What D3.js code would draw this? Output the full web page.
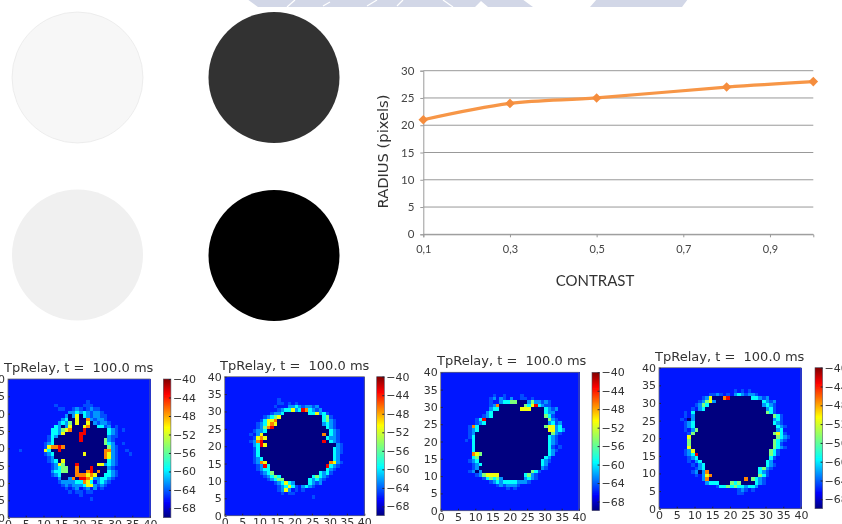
<!DOCTYPE html>
<html>
<head>
<meta charset="utf-8">
<script src="https://d3js.org/d3.v7.min.js"></script>
<style>
  html, body { margin: 0; padding: 0; background: #fff; overflow: hidden; }
  svg { display: block; }
  text { white-space: pre; }
</style>
</head>
<body>
<div id="my_dataviz"></div>
<script>
// line chart values
var contrast = [0.1, 0.3, 0.5, 0.8, 1];
var radius = [21, 24, 25, 27, 28];
var contrastTicks = [0.1, 0.3, 0.5, 0.7, 0.9];
var radiusTicks = [0, 5, 10, 15, 20, 25, 30];

// stimulus discs, grey level
var discGrays = ["#f7f7f7", "#333333", "#f0f0f0", "#000000"];

// heatmap cell codes -> membrane potential (mV)
var cellLevels = { ".": -66, "-": -64.5, "c": -62.5, "t": -59.5, "g": -55, "y": -51, "o": -47, "r": -43, "d": -70 };
var gridTicks = [0, 5, 10, 15, 20, 25, 30, 35, 40];
var barTicks = [-40, -44, -48, -52, -56, -60, -64, -68];
var firstRow = 34; // first string of each panel is this row, going downwards

var panel1Rows = [
"........................................",
"......................-.................",
".............-.......---................",
"..............--..-c-.-c--..............",
".................cctctc-cc-.............",
"................cdcydtc-cc--............",
"...............ctddyddoc-cc-............",
"..............ctcgdyddydc-cc-...........",
".............tcdcydddyoddtt-c.-.........",
"............ttcgyodddrddddddtc-.-.......",
"............ttcyddddrrddddddtc-.........",
"...........-tcddddddrdddddddc--.........",
"...........-tdddddddrddddddgc-..........",
"..........-ctddddddddddddddgtc..-.......",
"..........-yooroddddddddddddgc-.........",
"...-......ytddrddddddddddddooc-..-......",
"..........-ctddddddddydddddoyc-...-.....",
"...........-cddddddddddddddoyc-.........",
"...........-ctdyddddddddddddtc-.........",
"............-cygdddrdddddyyctc-.........",
"............-ctggddodddrddddc-..........",
"............cttggddoddordoddtc-..........",
"............-ctddddoooyoyddttc-.........",
"..............cddcodrroyccttc-..........",
"..............-ccccttoyt.ctc-...........",
"...............-c-ccctyyc-c-............",
"................-.-c.-c.c.-.............",
".................-.--.--................",
"....................-...................",
".......................-................"
];

var panel2Rows = [
"........................................",
"...............-........................",
"...............--.-.-...................",
"..............-...cctc-cc-c.............",
"...............-cttyctrotc-c............",
".............-cctdddddddttyct-..........",
"...........-ctgyddddddddddddtg-.........",
"..........-tyyodddddddddddddtgc-........",
".........-ctyoydddddddddddddctc-........",
".........-cgordddddddddddddddtc-........",
"........-cctddddddddddddddddddtc-.......",
".......-.cydddddddddddddddddodtc-.......",
"........-yoydddddddddddddddddtcc-.......",
".......-cordddddddddddddddddrdtc-.......",
"........ctryddddddddddddddddddddc-......",
"........-tdddddddddddddddddddddtc-......",
"........-tdddddddddddddddddddddtc-......",
"........-tdddddddddddddddddddddtc.......",
"........-ctddddddddddddddddddddtc.......",
"........-coyddddddddddddddddddoyc-......",
".........-crtddddddddddddddddrtc-.......",
".........-cttddddddddddddddddtc-........",
"..........-ctgdddddddddddddtct-.........",
"...........-ctgtdddddddddtgtc-..........",
"............-ctggdddddddtctc-...........",
"..............-ctytcddddtc-c............",
"...............-ctyt-.ctc-..............",
"...............-cyc.-.-.................",
"................-.--....................",
".........................-.............."
];

var panel3Rows = [
"........................................",
"...............-..-....-................",
"..............-c.c-.c..--.-.............",
"..............-..cttggdddcgcc-c-........",
"..............-codddddddgtyrtc--........",
"..............cttddddddyyyddddtc-c......",
".............ctdddddddddddddddtcc.......",
"............-ctdddddddddddddddgt-.......",
"..........-trddddddddddddddddddgc-......",
"..........-ctddddddddddddddddddct-c.....",
"........-otdddddddddddddddddddgyyct.....",
"........-ctddddddddddddddddddddyyctc....",
"........-cddddddddddddddddddddddgc-.....",
"........-tdddddddddddddddddddddtc-......",
".......-.tdddddddddddddddddddddtc-......",
".........tdddddddddddddddddddddtc-......",
".........tdddddddddddddddddddddt-.-.....",
".........tdddddddddddddddddddddtc-......",
".........oygdddddddddddddddddddtc.......",
".........tgdddddddddddddddddddtc........",
"........-ctddddddddddddddddddtc-........",
".........-ctdddddddddddddddddtc.........",
".........-cddddddddddddddddddc-.........",
"........-cdcddddddddddddddgt-...........",
"..........-cgyyyydddddddtgc-............",
"............-tgtgcddddddctc-............",
"..............-ctcttttccc-..............",
"................-c-ccc-.................",
"...................-.-.................."
];

var panel4Rows = [
"........................................",
".....................-.-.-..............",
"..............--c-.-.ctc-cc-............",
"............-cydddorddddddttc-c.........",
"...........-cgycdddddddddddddtc-c.......",
"..........-cgtdddddddddddddddctc-.......",
".........-.ctdddddddddddddddddct-.......",
".......-.tddddddddddddddddddddgt-.......",
".......-.cddddddddddddddddddddddgt-.....",
"......-.dcddddddddddddddddddddddct-.....",
".......-ctddddddddddddddddddddddtc-.....",
".......-ctdddddddddddddddddddddddtc-....",
".......-.cgddddddddddddddddddddddct.....",
"........-gddddddddddddddddddddddgyt-....",
"........yddddddddddddddddddddddddgtc-...",
"........gdddddddddddddddddddddddgtc-....",
"........gdddddddddddddddddddddddgt-.....",
"........ydddddddddddddddddddddddgtc-....",
".......-cydddddddddddddddddddddgt-......",
".......-ctrddddddddddddddddddddgt-......",
"........-ctddddddddddddddddddddt-.......",
"........-.ctddddddddddddddddddtc........",
".........-.ctdddddddddddddddddtc-.......",
"..........-ctdddddddddddddddtgc-........",
".........-cdcoddddddddddddddtc-.........",
"..........-.cyodddddddddddddgt-.........",
"............coddddddddddodgtc-..........",
".............ctttdddgtgddddtc-..........",
"................-ttgtgttcttc............",
"......................-c-.-.............",
"......................--................"
];

var panelRows = [panel1Rows, panel2Rows, panel3Rows, panel4Rows];
var panelTitle = "TpRelay, t =  100.0 ms";

var width = 842, height = 524;

var svg = d3.select("#my_dataviz").append("svg")
  .attr("width", width)
  .attr("height", height);

var defs = svg.append("defs");
defs.append("filter").attr("id", "soft")
  .attr("x", "-5%").attr("y", "-5%").attr("width", "110%").attr("height", "110%")
  .append("feGaussianBlur").attr("stdDeviation", 0.65);
defs.append("filter").attr("id", "softText")
  .attr("x", "-5%").attr("y", "-5%").attr("width", "110%").attr("height", "110%")
  .append("feGaussianBlur").attr("stdDeviation", 0.35);

// jet colormap
var jetPos = [0, 0.11, 0.35, 0.5, 0.65, 0.89, 1];
var jetCol = ["#00007f", "#0000ff", "#00ffff", "#7dff7a", "#ffff00", "#ff0000", "#7f0000"];
var color = d3.scaleLinear()
  .domain(jetPos.map(function(p) { return -70 + p * 30; }))
  .range(jetCol);

var gradient = defs.append("linearGradient").attr("id", "jet")
  .attr("x1", 0).attr("x2", 0).attr("y1", 1).attr("y2", 0);
jetPos.forEach(function(p, i) {
  gradient.append("stop").attr("offset", p).attr("stop-color", jetCol[i]);
});

// crest left over at the top of the page
var crest = svg.append("g").attr("filter", "url(#softText)");
crest.append("path")
  .attr("d", "M247,-1L258,7L475,7L481,1L488,7L533,7L522,-1L597,-1L590,7L682,7L688,-1Z")
  .attr("fill", "#d2d7e7");
[[295, 0, 287, 7], [323, 6, 330, 2], [367, 6, 377, 0], [397, 6, 403, 0], [443, 0, 453, 7]].forEach(function(s) {
  crest.append("line").attr("x1", s[0]).attr("y1", s[1]).attr("x2", s[2]).attr("y2", s[3])
    .attr("stroke", "#fff").attr("stroke-width", 1.2);
});

// discs
var discPlace = [[77.5, 77.5], [274, 77.5], [77.5, 255], [274, 255.5]];
svg.append("g").attr("filter", "url(#softText)").selectAll("circle")
  .data(discGrays).enter().append("circle")
  .attr("cx", function(d, i) { return discPlace[i][0]; })
  .attr("cy", function(d, i) { return discPlace[i][1]; })
  .attr("r", 65.5)
  .attr("fill", function(d) { return d; })
  .attr("stroke", function(d, i) { return i == 0 ? "#e6e6e6" : "none"; })
  .attr("stroke-width", 0.7);

// line chart
var x = d3.scaleLinear().domain([0.1, 1]).range([423.3, 813.3]);
var y = d3.scaleLinear().domain([0, 30]).range([234.3, 70.7]);
var chart = svg.append("g").attr("filter", "url(#softText)");
var chartFont = "Lato, 'Open Sans', sans-serif";

var gridAxis = d3.axisLeft(y).tickValues(radiusTicks).tickSize(3).tickPadding(6);
var gy = chart.append("g").attr("transform", "translate(423.3,0)").call(gridAxis);
gy.select(".domain").attr("stroke", "#9a9a9a");
gy.selectAll("line").attr("stroke", "#9a9a9a");
gy.selectAll("text").attr("font-family", chartFont).attr("font-size", 11.5).attr("fill", "#444");
chart.append("g").selectAll("line").data(radiusTicks).enter().append("line")
  .attr("x1", x(0.1)).attr("x2", x(1))
  .attr("y1", function(d) { return y(d); }).attr("y2", function(d) { return y(d); })
  .attr("stroke", "#999").attr("stroke-width", 1);

var gx = chart.append("g").attr("transform", "translate(0,234.3)")
  .call(d3.axisBottom(x).tickValues(contrastTicks).tickSize(3).tickPadding(8)
    .tickFormat(function(d) { return d3.format(".1f")(d).replace(".", ","); }));
gx.select(".domain").attr("stroke", "#9a9a9a");
gx.selectAll("line").attr("stroke", "#9a9a9a");
gx.selectAll("text").attr("font-family", chartFont).attr("font-size", 11).attr("fill", "#444");

var line = d3.line()
  .x(function(d, i) { return x(contrast[i]); })
  .y(function(d) { return y(d); })
  .curve(d3.curveCatmullRom.alpha(0.5));
chart.append("path").attr("d", line(radius))
  .attr("fill", "none").attr("stroke", "#f79646").attr("stroke-width", 3.2);
chart.append("g").selectAll("path").data(radius).enter().append("path")
  .attr("d", d3.symbol().type(d3.symbolSquare).size(46))
  .attr("transform", function(d, i) { return "translate(" + x(contrast[i]) + "," + y(d) + ") rotate(45)"; })
  .attr("fill", "#f58d3e");

chart.append("text")
  .attr("transform", "translate(388,151.5) rotate(-90)")
  .attr("text-anchor", "middle")
  .attr("font-family", "'DejaVu Sans', sans-serif").attr("font-size", 14.7).attr("fill", "#333")
  .text("RADIUS (pixels)");
chart.append("text")
  .attr("x", 595).attr("y", 286)
  .attr("text-anchor", "middle")
  .attr("font-family", chartFont).attr("font-size", 15).attr("fill", "#333")
  .text("CONTRAST");

// heatmaps
var layout = [
  { x0: 8, x1: 150, y0: 379, y1: 517.7, bx: 163.3, tx: 4 },
  { x0: 224.7, x1: 364.3, y0: 376.7, y1: 515.7, bx: 376.7, tx: 220 },
  { x0: 440.7, x1: 579, y0: 372.3, y1: 510.7, bx: 592, tx: 437 },
  { x0: 659, x1: 801, y0: 367.7, y1: 508.7, bx: 815, tx: 655 }
];
var plotFont = "'DejaVu Sans', sans-serif";
var cols = d3.range(40), rows = d3.range(40);

layout.forEach(function(p, k) {
  var g = svg.append("g").attr("class", "panel");
  var xCell = d3.scaleBand().domain(cols).range([p.x0, p.x1]);
  var yCell = d3.scaleBand().domain(rows).range([p.y1, p.y0]);
  var xTick = d3.scaleLinear().domain([0, 40]).range([p.x0, p.x1]);
  var yTick = d3.scaleLinear().domain([0, 40]).range([p.y1, p.y0]);

  var cells = [];
  rows.forEach(function(r) {
    var s = panelRows[k][firstRow - r] || "";
    cols.forEach(function(c) {
      cells.push({ c: c, r: r, v: cellLevels[s.charAt(c)] || -66 });
    });
  });
  g.append("g").attr("filter", "url(#soft)").attr("shape-rendering", "crispEdges").selectAll("rect")
    .data(cells).enter().append("rect")
    .attr("x", function(d) { return xCell(d.c); })
    .attr("y", function(d) { return yCell(d.r); })
    .attr("width", xCell.bandwidth() + 0.5)
    .attr("height", yCell.bandwidth() + 0.5)
    .attr("fill", function(d) { return color(d.v); });

  var labels = g.append("g").attr("filter", "url(#softText)");
  var ax = labels.append("g").attr("transform", "translate(0," + p.y1 + ")")
    .call(d3.axisBottom(xTick).tickValues(gridTicks).tickSize(-2).tickPadding(3));
  var ay = labels.append("g").attr("transform", "translate(" + p.x0 + ",0)")
    .call(d3.axisLeft(yTick).tickValues(gridTicks).tickSize(-2).tickPadding(3));
  labels.append("rect")
    .attr("x", p.x0).attr("y", p.y0)
    .attr("width", p.x1 - p.x0).attr("height", p.y1 - p.y0)
    .attr("fill", "none").attr("stroke", "#667").attr("stroke-width", 0.8);
  labels.append("text")
    .attr("x", p.tx).attr("y", p.y0 - 7)
    .attr("font-family", plotFont).attr("font-size", 13).attr("fill", "#333")
    .text(panelTitle);

  var bar = d3.scaleLinear().domain([-70, -40]).range([p.y1, p.y0]);
  labels.append("rect")
    .attr("x", p.bx).attr("y", p.y0)
    .attr("width", 7.6).attr("height", p.y1 - p.y0)
    .attr("fill", "url(#jet)").attr("stroke", "#556").attr("stroke-width", 0.6);
  var ab = labels.append("g").attr("transform", "translate(" + (p.bx + 7.6) + ",0)")
    .call(d3.axisRight(bar).tickValues(barTicks).tickSize(-2).tickPadding(2)
      .tickFormat(function(d) { return String(d).replace("-", "\u2212"); }));

  [ax, ay, ab].forEach(function(a) {
    a.select(".domain").remove();
    a.selectAll("line").attr("stroke", "#223");
    a.selectAll("text").attr("font-family", plotFont).attr("font-size", 11).attr("fill", "#333");
  });
});
</script>
</body>
</html>
